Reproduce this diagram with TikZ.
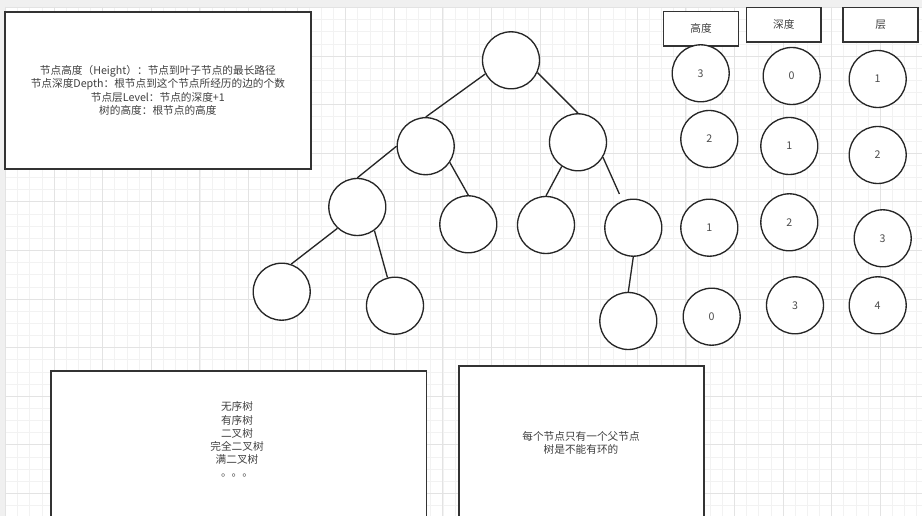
\documentclass[tikz,border=0pt]{standalone}
\usepackage{fontspec}
\setmainfont{Noto Sans CJK SC}
\begin{document}
\begin{tikzpicture}[x=0.75pt,y=-0.75pt,
        vertex/.style={draw=black!85,line width=1pt,circle,minimum size=57*0.75pt,inner sep=0pt,text=black!70,font=\fontsize{8}{9.9}\selectfont},
        box/.style={draw=black!80,line width=1.3pt,anchor=north west,inner sep=0pt,text=black!75,align=center,font=\fontsize{8}{9.9}\selectfont},
        txt/.style={text=black!75,align=center,font=\fontsize{8}{9.9}\selectfont},
        edge/.style={draw=black!85,line width=1pt},
        minorline/.style={draw=black!5,line width=0.6pt},
        majorline/.style={draw=black!11,line width=0.7pt}]
                % canvas
                \useasboundingbox (0,0) rectangle (922,516) ;
                \fill[black!6] (0,0) rectangle (922,516) ;
                \fill[white] (6,7) rectangle (922,516) ;
                \foreach \i in {0,...,75} \draw[minorline] ({5.5+12.15*\i},7) -- ({5.5+12.15*\i},516) ;
                \foreach \i in {0,...,41} \draw[minorline] (6,{7.5+12.15*\i}) -- (922,{7.5+12.15*\i}) ;
                \foreach \i in {0,...,18} \draw[majorline] ({5.5+48.6*\i},7) -- ({5.5+48.6*\i},516) ;
                \foreach \i in {0,...,10} \draw[majorline] (6,{7.5+48.6*\i}) -- (922,{7.5+48.6*\i}) ;
                % definitions
                \draw (4,11) node[box,fill=white,minimum width=306*0.75pt,minimum height=157*0.75pt] (defs) {节点高度（Height）：节点到叶子节点的最长路径\\节点深度Depth：根节点到这个节点所经历的边的个数\\节点层Level：节点的深度+1\\树的高度：根节点的高度} ;
                % tree
                \draw (511,60.3) node[vertex,fill=white] (root) {} ;
                \draw (425.7,146.2) node[vertex,fill=white] (l) {} ;
                \draw (578,142.3) node[vertex,fill=white] (r) {} ;
                \draw (357.3,207) node[vertex,fill=white] (ll) {} ;
                \draw (468.3,224.3) node[vertex,fill=white] (lr) {} ;
                \draw (546,225) node[vertex,fill=white] (rl) {} ;
                \draw (633.3,227.7) node[vertex,fill=white] (rr) {} ;
                \draw (281.7,291.7) node[vertex,fill=white] (lll) {} ;
                \draw (395,305.7) node[vertex,fill=white] (llr) {} ;
                \draw (628.3,321) node[vertex,fill=white] (rrl) {} ;
                \draw[edge] (root.208) -- (l.north) ;
                \draw[edge] (root.335) -- (r.north) ;
                \draw[edge] (l.west) -- (ll.north) ;
                \draw[edge] (l.326) -- (lr.north) ;
                \draw[edge] (r.236) -- (rl.north) ;
                \draw[edge,shorten >=5.5pt] (r.329) -- (rr.112) ;
                \draw[edge] (ll.227) -- (lll.71) ;
                \draw[edge] (ll.306) -- (llr.105) ;
                \draw[edge] (rr.south) -- (rrl.north) ;
                % columns
                \draw (662.7,10.7) node[box,fill=white,minimum width=75*0.75pt,minimum height=34.3*0.75pt] (height) {高度} ;
                \draw (745.7,6.7) node[box,fill=white,minimum width=74.6*0.75pt,minimum height=34.3*0.75pt] (depth) {深度} ;
                \draw (842.3,6.7) node[box,fill=white,minimum width=75*0.75pt,minimum height=34.3*0.75pt] (level) {层} ;
                \draw (700.7,73.3) node[vertex,fill=white] (h3) {3} ;
                \draw (709.3,139) node[vertex,fill=white] (h2) {2} ;
                \draw (709.3,227.7) node[vertex,fill=white] (h1) {1} ;
                \draw (711.7,316.7) node[vertex,fill=white] (h0) {0} ;
                \draw (791.7,76) node[vertex,fill=white] (d0) {0} ;
                \draw (789.3,146) node[vertex,fill=white] (d1) {1} ;
                \draw (789.3,222.3) node[vertex,fill=white] (d2) {2} ;
                \draw (795,305.3) node[vertex,fill=white] (d3) {3} ;
                \draw (877.7,79) node[vertex,fill=white] (v1) {1} ;
                \draw (877.7,155) node[vertex,fill=white] (v2) {2} ;
                \draw (882.7,238.3) node[vertex,fill=white] (v3) {3} ;
                \draw (877.7,305.3) node[vertex,fill=white] (v4) {4} ;
                % notes
                \draw (50,370) node[box,fill=white,minimum width=375.7*0.75pt,minimum height=180*0.75pt] (types) {} ;
                \draw (237,439.7) node[txt] (typestext) {无序树\\有序树\\二叉树\\完全二叉树\\满二叉树\\。。。} ;
                \draw (458.3,365) node[box,fill=white,minimum width=245*0.75pt,minimum height=180*0.75pt] (rules) {} ;
                \draw (581,442.7) node[txt] (rulestext) {每个节点只有一个父节点\\树是不能有环的} ;
\end{tikzpicture}
\end{document}
